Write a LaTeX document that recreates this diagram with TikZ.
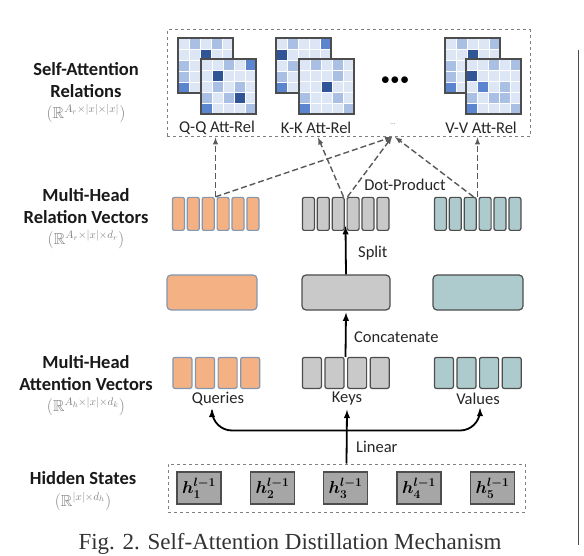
\documentclass[tikz,border=0pt]{standalone}
\usepackage{amsmath}
\usepackage{amssymb}
\usepackage{fontspec}
\setmainfont{Carlito}
\newfontfamily\capfont{Liberation Serif}
\usetikzlibrary{arrows,positioning}

\definecolor{qfill}{HTML}{F4B183}
\definecolor{qline}{HTML}{8497B0}
\definecolor{kfill}{HTML}{C9C9C9}
\definecolor{vfill}{HTML}{ADCACD}
\definecolor{hfill}{HTML}{A6A6A6}
\definecolor{boxline}{HTML}{4D4D4D}
\definecolor{cellbg}{HTML}{DCE6F4}
\definecolor{cellmid}{HTML}{A9BFE3}
\definecolor{cellblue}{HTML}{5B85CF}
\definecolor{celldark}{HTML}{2F5597}

% one 5x5 attention map: x, y of top left corner, list col/row/colour
\newcommand{\attmap}[3]{%
  \fill[cellbg] (#1,#2) rectangle ++(55,55);
  \foreach \c/\r/\s in {#3}
    \fill[\s] (#1+\c*11-11,#2+\r*11-11) rectangle ++(11,11);
  \foreach \k in {1,...,4} {
    \draw[white,line width=0.9pt] (#1+\k*11,#2) -- ++(0,55);
    \draw[white,line width=0.9pt] (#1,#2+\k*11) -- ++(55,0);
  }
  \draw[boxline,line width=1.5pt] (#1,#2) rectangle ++(55,55);
}

\begin{document}
\begin{tikzpicture}[x=1pt,y=-1pt,
  rowlab/.style={font=\bfseries\fontsize{18.5}{22}\selectfont,align=center,text=black!90,inner sep=1pt},
  dimlab/.style={font=\fontsize{16}{17}\selectfont,text=gray,inner sep=1pt},
  lab/.style={font=\fontsize{16.5}{18}\selectfont,text=black!85,inner sep=1pt},
  dashbox/.style={draw=gray,dashed,line width=1pt,inner sep=0pt},
  relarr/.style={draw=gray!70!black,dash pattern=on 6pt off 3pt,line width=1.4pt,-latex},
  solidarr/.style={draw=black,line width=1.8pt,-latex},
  bar/.style={draw=boxline,line width=1.2pt,rounded corners=2pt,inner sep=0pt,minimum width=#1},
  group/.style={inner sep=0pt,minimum width=87pt}]
\useasboundingbox (0,0) rectangle (584,556);

% row labels
\node[rowlab] (sarel) at (86,80.5) {Self-Attention\\Relations};
\node[dimlab,below=4pt of sarel] (sareldim) {$(\mathbb{R}^{A_r\times|x|\times|x|})$};
\node[rowlab] (mhrel) at (86,206.5) {Multi-Head\\Relation Vectors};
\node[dimlab,below=4pt of mhrel] (mhreldim) {$(\mathbb{R}^{A_r\times|x|\times d_r})$};
\node[rowlab] (mhatt) at (86,373.5) {Multi-Head\\Attention Vectors};
\node[dimlab,below=4pt of mhatt] (mhattdim) {$(\mathbb{R}^{A_h\times|x|\times d_k})$};
\node[rowlab] (hidlab) at (83,478) {Hidden States};
\node[dimlab,below=5pt of hidlab] (hiddim) {$(\mathbb{R}^{|x|\times d_h})$};

% self-attention relations
\node[dashbox,minimum width=363pt,minimum height=107pt] (relbox) at (348.5,83.5) {};
\attmap{178}{38}{2/1/cellmid,4/1/cellmid,3/2/celldark,1/3/cellmid,1/4/cellmid,1/5/cellblue}
\attmap{201}{59}{3/1/cellmid,5/1/cellblue,2/2/celldark,2/3/cellmid,4/3/cellmid,1/4/cellmid,3/4/cellmid,4/4/celldark,1/5/cellblue,5/5/cellmid}
\attmap{276}{38}{2/1/cellmid,5/1/cellblue,1/2/celldark,2/3/cellmid,1/4/cellmid,1/5/cellblue}
\attmap{299}{59}{2/1/cellmid,4/1/cellmid,4/2/cellmid,3/3/celldark,1/4/cellmid,4/4/cellmid,1/5/cellblue,5/5/cellmid}
\attmap{445}{38}{2/1/cellmid,5/1/cellmid,3/2/celldark,1/3/cellmid,1/4/cellmid,1/5/cellblue}
\attmap{466}{59}{3/1/cellmid,5/1/cellmid,1/2/celldark,2/3/cellblue,4/3/cellmid,1/4/cellmid,3/4/cellmid,4/4/cellmid,1/5/cellblue,5/5/cellmid}
\node[lab] (qqlab) at (217,128) {Q-Q Att-Rel};
\node[lab] (kklab) at (316,128) {K-K Att-Rel};
\node[lab] (vvlab) at (481,128) {V-V Att-Rel};
\node[font=\fontsize{18}{18}\selectfont] (dots) at (395,81) {$\bullet\!\bullet\!\bullet$};
\node[font=\fontsize{7}{7}\selectfont,text=gray] (dotsb) at (393,124) {...};

% multi-head relation vectors
\node[group,minimum height=33pt] (qrel) at (215.5,213.5) {};
\node[group,minimum height=33pt] (krel) at (345.5,213.5) {};
\node[group,minimum height=33pt] (vrel) at (477.5,213.5) {};
\foreach \g/\f/\d in {qrel/qfill/qline,krel/kfill/boxline,vrel/vfill/boxline}
  \foreach \i in {1,...,6}
    \node[bar=12pt,fill=\f,draw=\d,minimum height=33pt,anchor=north west]
      (\g\i) at ([xshift={(\i-1)*14.9pt}]\g.north west) {};
\node[lab] (dotprod) at (405,185) {Dot-Product};
\coordinate (dp) at (392,137);

% concatenated vectors
\node[bar=90pt,fill=qfill,draw=qline,minimum height=35pt,rounded corners=4pt] (qcat) at (212,292.5) {};
\node[bar=88pt,fill=kfill,minimum height=35pt,rounded corners=4pt] (kcat) at (346,292.5) {};
\node[bar=90pt,fill=vfill,minimum height=35pt,rounded corners=4pt] (vcat) at (478,292.5) {};

% multi-head attention vectors
\node[group,minimum height=31pt] (qatt) at (216,372.5) {};
\node[group,minimum height=31pt] (katt) at (345.5,372.5) {};
\node[group,minimum height=31pt] (vatt) at (477.5,372.5) {};
\foreach \g/\f/\d in {qatt/qfill/qline,katt/kfill/boxline,vatt/vfill/boxline}
  \foreach \i in {1,...,4}
    \node[bar=19pt,fill=\f,draw=\d,minimum height=31pt,anchor=north west]
      (\g\i) at ([xshift={(\i-1)*22.6pt}]\g.north west) {};
\node[lab] (queries) at (218,399) {Queries};
\node[lab] (keys) at (347,399) {Keys};
\node[lab] (values) at (478,399) {Values};

% hidden states
\node[dashbox,minimum width=357pt,minimum height=48pt] (hid) at (346.5,488) {};
\foreach \i/\x in {1/199,2/272.5,3/345.5,4/419,5/492.5}
  \node[draw=boxline,line width=1.3pt,fill=hfill,minimum width=44pt,minimum height=32pt,
    inner sep=0pt,font=\fontsize{17}{17}\selectfont] (h\i) at (\x,488) {$\boldsymbol{h^{l-1}_{\i}}$};

% connectors
\draw[relarr] (qrel.north) -- (qrel.north |- relbox.south);
\draw[relarr] (qrel.north) -- (dp);
\draw[relarr] ([xshift=-2pt]krel.north) -- ([xshift=2pt]kklab.south |- relbox.south);
\draw[relarr] ([xshift=2pt]krel.north) -- (dp);
\draw[relarr] (vrel.north) -- (vrel.north |- relbox.south);
\draw[relarr] ([xshift=-4pt]vrel.north) -- ([xshift=3pt]dp);
\draw[solidarr] (kcat.north) -- ([yshift=4pt]krel.south);
\node[lab,anchor=west] (split) at (357,253) {Split};
\draw[solidarr] (katt.north) -- ([yshift=-2pt]kcat.south);
\node[lab,anchor=west] (concat) at (353,337) {Concatenate};
\coordinate (lin) at ([yshift=33pt]hid.north);
\draw[solidarr] (hid.north) -- ([yshift=-3pt]keys.south);
\draw[solidarr,rounded corners=20pt] (lin) -| ([xshift=-6pt,yshift=-2pt]queries.south);
\draw[solidarr,rounded corners=20pt] (lin) -| ([xshift=2pt,yshift=-2pt]values.south);
\node[lab,anchor=west] (linear) at (355,447) {Linear};

% page edge and caption
\draw[black!70,line width=0.8pt] (578,50) -- (578,545);
\node[font=\capfont\fontsize{23}{23}\selectfont,text=black!80,anchor=base] (caption) at (290,549)
  {Fig. 2. Self-Attention Distillation Mechanism};
\end{tikzpicture}
\end{document}
